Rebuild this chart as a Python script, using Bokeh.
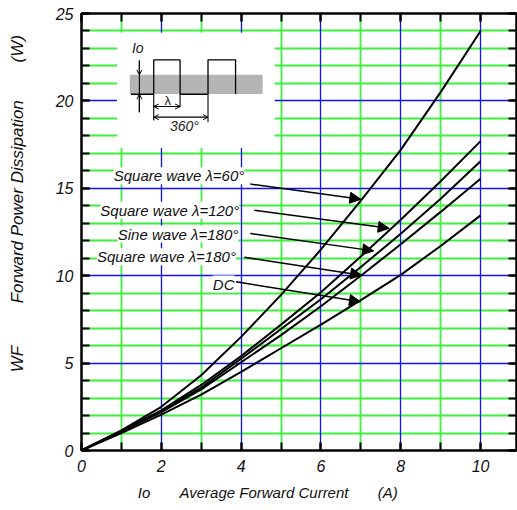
import numpy as np
from bokeh.plotting import figure
from bokeh.models import (Range1d, LinearAxis, SingleIntervalTicker, FixedTicker, Label, Arrow,
                          NormalHead, OpenHead, BoxAnnotation, Grid, CustomJSTickFormatter)
from bokeh.embed import file_html
from bokeh.resources import INLINE

# ---- data ----
current = [0, 1, 2, 3, 4, 5, 6, 7, 8, 9, 10]
sq60 = [0, 1.15, 2.5, 4.3, 6.5, 8.9, 11.5, 14.3, 17.2, 20.5, 24.0]
sq120 = [0, 1.12, 2.3, 3.75, 5.4, 7.2, 9.05, 11.1, 13.2, 15.4, 17.7]
sine180 = [0, 1.1, 2.25, 3.6, 5.25, 6.95, 8.65, 10.5, 12.4, 14.4, 16.55]
sq180 = [0, 1.1, 2.2, 3.5, 5.05, 6.6, 8.25, 10.0, 11.8, 13.65, 15.55]
dc = [0, 1.0, 2.05, 3.2, 4.5, 5.85, 7.2, 8.6, 10.05, 11.7, 13.45]

series_labels = ["Square wave \u03bb=60\u00b0", "Square wave \u03bb=120\u00b0",
                 "Sine wave \u03bb=180\u00b0", "Square wave \u03bb=180\u00b0", "DC"]

x_major_grid = [2, 4, 6, 8, 10]
x_minor_grid = [1, 3, 5, 7, 9]
y_major_grid = [5, 10, 15, 20]
y_minor_grid = [v for v in range(1, 25) if v % 5 != 0]

NB = "\u00a0"
x_title = "Io" + NB * 7 + "Average Forward Current" + NB * 7 + "(A)" + NB * 15
y_title = NB * 12 + "WF" + NB * 9 + "Forward Power Dissipation" + NB * 8 + "(W)"

FONT = "Liberation Sans"

p = figure(width=517, height=510, x_range=Range1d(0, 10.9), y_range=Range1d(0, 25),
           output_backend="svg", toolbar_location=None,
           x_axis_type=None, y_axis_type=None,
           min_border_left=81, min_border_top=13, min_border_bottom=60, min_border_right=1)
p.outline_line_color = "black"
p.outline_line_width = 2
p.background_fill_color = "white"

xticker = SingleIntervalTicker(interval=2, num_minor_ticks=2)
yticker = SingleIntervalTicker(interval=5, num_minor_ticks=5)

GREEN = "#3cf03c"
BLUE = "#1010ff"
p.add_layout(Grid(dimension=0, ticker=FixedTicker(ticks=x_minor_grid),
                  grid_line_color=GREEN, grid_line_width=1.8))
p.add_layout(Grid(dimension=1, ticker=FixedTicker(ticks=y_minor_grid),
                  grid_line_color=GREEN, grid_line_width=1.8))
p.add_layout(Grid(dimension=0, ticker=FixedTicker(ticks=x_major_grid),
                  grid_line_color=BLUE, grid_line_width=1.3))
p.add_layout(Grid(dimension=1, ticker=FixedTicker(ticks=y_major_grid),
                  grid_line_color=BLUE, grid_line_width=1.3))

blank = CustomJSTickFormatter(code="return ''")


def style_axis(ax, labels=True, standoff=8):
    ax.axis_line_width = 2
    ax.axis_line_color = "black"
    ax.major_tick_in = 8
    ax.major_tick_out = 0
    ax.minor_tick_in = 8
    ax.minor_tick_out = 0
    ax.major_tick_line_width = 2
    ax.minor_tick_line_width = 2
    ax.major_tick_line_color = "black"
    ax.minor_tick_line_color = "black"
    ax.major_label_text_font = FONT
    ax.major_label_text_font_style = "italic"
    ax.major_label_text_color = "#111111"
    ax.major_label_text_font_size = "16px"
    ax.axis_label_text_font = FONT
    ax.axis_label_text_font_style = "italic"
    ax.axis_label_text_color = "#111111"
    if labels:
        ax.major_label_standoff = standoff
    else:
        ax.formatter = blank
        ax.major_label_standoff = 0


bottom = LinearAxis(ticker=xticker, axis_label=x_title)
style_axis(bottom, True, 9)
bottom.axis_label_text_font_size = "15px"
bottom.axis_label_standoff = 9
left = LinearAxis(ticker=yticker, axis_label=y_title)
style_axis(left, True, 8)
left.axis_label_text_font_size = "17px"
left.axis_label_standoff = 26
top = LinearAxis(ticker=xticker)
style_axis(top, False)
right = LinearAxis(ticker=yticker)
style_axis(right, False)
p.add_layout(bottom, "below")
p.add_layout(left, "left")
p.add_layout(top, "above")
p.add_layout(right, "right")

# ---- inset waveform diagram ----
p.add_layout(BoxAnnotation(left=0.89, right=4.84, bottom=17.3, top=23.9,
                           fill_color="white", fill_alpha=1, line_color=None, level="underlay"))
p.add_layout(BoxAnnotation(left=1.21, right=4.54, bottom=20.4, top=21.49,
                           fill_color="#b4b4b4", fill_alpha=1, line_color=None, level="underlay"))
wave_x = [1.24, 1.81, 1.81, 2.47, 2.47, 3.17, 3.17, 3.86, 3.86]
wave_y = [20.38, 20.38, 22.35, 22.35, 20.38, 20.38, 22.35, 22.35, 20.4]
p.line(wave_x, wave_y, line_color="black", line_width=1.3)
dim_x0 = [1.81, 2.47, 3.17, 1.45]
dim_y0 = [20.38, 20.38, 20.38, 22.31]
dim_x1 = [1.81, 2.47, 3.17, 1.45]
dim_y1 = [18.88, 19.64, 18.78, 19.35]
p.segment(dim_x0, dim_y0, dim_x1, dim_y1, line_color="black", line_width=1.1)

for (ys, ye) in [(22.31, 21.49), (19.35, 20.38)]:
    p.add_layout(Arrow(end=OpenHead(size=5, line_width=1), x_start=1.45, y_start=ys,
                       x_end=1.45, y_end=ye, line_width=1.1))
for (xs, xe, yy) in [(1.81, 2.47, 19.68), (1.81, 3.17, 19.07)]:
    p.add_layout(Arrow(start=OpenHead(size=5, line_width=1), end=OpenHead(size=5, line_width=1),
                       x_start=xs, y_start=yy, x_end=xe, y_end=yy, line_width=1.1))

p.add_layout(Label(x=1.41, y=23.0, text="Io", text_font=FONT, text_font_style="italic",
                   text_font_size="14px", text_align="center", text_baseline="middle",
                   text_color="#222222"))
p.add_layout(Label(x=2.16, y=20.04, text="\u03bb", text_font=FONT,
                   text_font_size="13px", text_align="center", text_baseline="middle",
                   text_color="#222222"))
p.add_layout(Label(x=2.58, y=18.56, text="360\u00b0", text_font=FONT, text_font_style="italic",
                   text_font_size="14px", text_align="center", text_baseline="middle",
                   text_color="#222222"))

# ---- curves ----
for ys in [sq60, sq120, sine180, sq180, dc]:
    p.line(current, ys, line_color="black", line_width=2)

# ---- curve annotations ----
label_pos = [(0.807, 15.72), (0.471, 13.75), (0.907, 12.38), (0.388, 11.08), (3.29, 9.52)]
arrow_pos = [((4.23, 15.24), (7.00, 14.37)),
             ((4.33, 13.75), (7.71, 12.71)),
             ((4.23, 12.42), (7.32, 11.42)),
             ((4.08, 11.05), (7.02, 10.03)),
             ((3.87, 9.65), (6.99, 8.51))]
for txt, (lx, ly), ((x0, y0), (x1, y1)) in zip(series_labels, label_pos, arrow_pos):
    p.add_layout(Label(x=lx, y=ly, text=txt, text_font=FONT, text_font_style="italic",
                       text_font_size="15px", text_align="left", text_baseline="middle",
                       text_color="#111111", background_fill_color="white",
                       background_fill_alpha=1))
    p.add_layout(Arrow(end=NormalHead(size=11, fill_color="black", line_color="black"),
                       x_start=x0, y_start=y0, x_end=x1, y_end=y1,
                       line_width=1.5, line_color="black"))

open("out.html", "w").write(file_html(p, INLINE))
